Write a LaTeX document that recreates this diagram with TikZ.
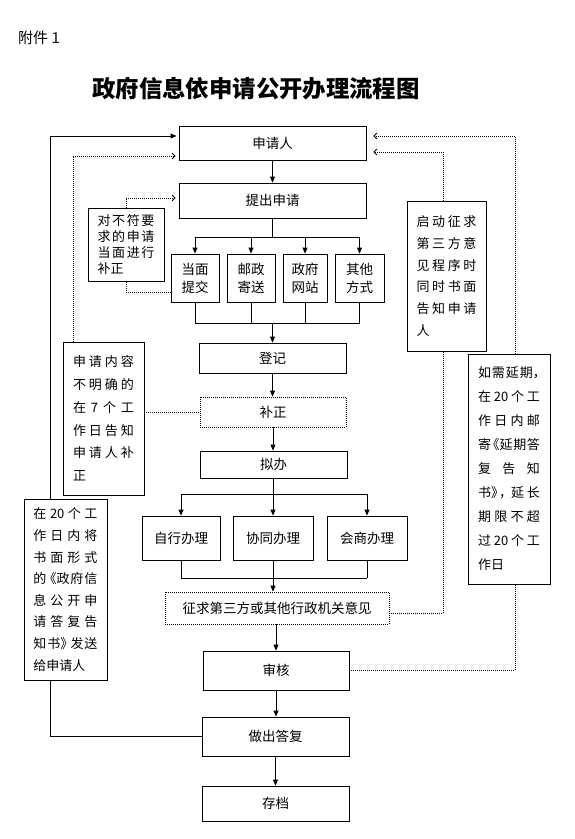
\documentclass[tikz,border=0pt]{standalone}
\usepackage{fontspec}
\setmainfont{Noto Sans CJK SC}
\usetikzlibrary{arrows.meta}
\newcommand\jl[2]{\makebox[#1][s]{#2}}
\tikzset{
  box/.style={draw, line width=0.8pt, inner sep=0pt, align=center, font=\fontsize{13.5}{18}\selectfont},
  dotbox/.style={box, dash pattern=on 1pt off 1pt},
  side/.style={draw, line width=0.8pt, inner sep=0pt, align=left},
  ln/.style={line width=0.8pt},
  arr/.style={line width=0.8pt, -{Triangle[length=6pt,width=5pt]}},
  dot/.style={line width=0.8pt, dash pattern=on 1pt off 1pt},
  dotarr/.style={dot, -{Straight Barb[length=3pt,width=6pt]}},
}
\begin{document}
\begin{tikzpicture}[x=1pt,y=-1pt]
\useasboundingbox (0,0) rectangle (574,839);
% titles
\node[anchor=west, inner sep=0pt, font=\fontsize{15}{15}\selectfont] (fj) at (18,38) {附件 1};
\node[inner sep=0pt, font=\bfseries\fontsize{23.4}{24}\selectfont] (title) at (256,89) {政府信息依申请公开办理流程图};
% main column
\node[box, minimum width=187pt, minimum height=34pt] (sq) at (272.5,143) {申请人};
\node[box, minimum width=187pt, minimum height=35pt] (tc) at (272.5,200.5) {提出申请};
\node[box, minimum width=48pt, minimum height=48pt] (b1) at (195,278) {当面\\提交};
\node[box, minimum width=48pt, minimum height=48pt] (b2) at (251,278) {邮政\\寄送};
\node[box, minimum width=44pt, minimum height=48pt] (b3) at (305,278) {政府\\网站};
\node[box, minimum width=49pt, minimum height=48pt] (b4) at (359.5,278) {其他\\方式};
\node[box, minimum width=147pt, minimum height=30pt] (dj) at (272.5,358) {登记};
\node[dotbox, minimum width=146pt, minimum height=30pt] (bz) at (273,412) {补正};
\node[box, minimum width=147pt, minimum height=27pt] (nb) at (273.5,464.5) {拟办};
\node[box, minimum width=78pt, minimum height=44pt] (c1) at (181,538) {自行办理};
\node[box, minimum width=80pt, minimum height=44pt] (c2) at (273,538) {协同办理};
\node[box, minimum width=80pt, minimum height=44pt] (c3) at (367,538) {会商办理};
\node[dotbox, minimum width=224pt, minimum height=32pt] (zq) at (277,608) {征求第三方或其他行政机关意见};
\node[box, minimum width=146pt, minimum height=39pt] (sh) at (276,670.5) {审核};
\node[box, minimum width=147pt, minimum height=39pt] (zd) at (275.5,736.5) {做出答复};
\node[box, minimum width=147pt, minimum height=35pt] (cd) at (275.5,803.5) {存档};
% side notes
\node[side, minimum width=76pt, minimum height=73pt, text width=57pt, font=\fontsize{13}{16.3}\selectfont] (sA) at (126,244.5)
  {\jl{57pt}{对\hfill 不\hfill 符\hfill 要}\\\jl{57pt}{求\hfill 的\hfill 申\hfill 请}\\\jl{57pt}{当\hfill 面\hfill 进\hfill 行}\\补正};
\node[side, minimum width=79pt, minimum height=150pt, text width=60pt, font=\fontsize{13}{21.7}\selectfont] (sB) at (446.5,276)
  {\jl{60pt}{启\hfill 动\hfill 征\hfill 求}\\\jl{60pt}{第\hfill 三\hfill 方\hfill 意}\\\jl{60pt}{见\hfill 程\hfill 序\hfill 时}\\\jl{60pt}{同\hfill 时\hfill 书\hfill 面}\\\jl{60pt}{告\hfill 知\hfill 申\hfill 请}\\人};
\node[side, minimum width=81pt, minimum height=153pt, text width=61pt, font=\fontsize{13}{22.8}\selectfont] (sC) at (103.5,418.5)
  {\jl{61pt}{申\hfill 请\hfill 内\hfill 容}\\\jl{61pt}{不\hfill 明\hfill 确\hfill 的}\\\jl{61pt}{在\hfill 7\hfill 个\hfill 工}\\\jl{61pt}{作\hfill 日\hfill 告\hfill 知}\\\jl{61pt}{申\hfill 请\hfill 人\hfill 补}\\正};
\node[side, minimum width=83pt, minimum height=181pt, text width=64pt, font=\fontsize{13}{21.6}\selectfont] (sD) at (65.5,589.5)
  {\jl{64pt}{在\hfill 20\hfill 个\hfill 工}\\\jl{64pt}{作\hfill 日\hfill 内\hfill 将}\\\jl{64pt}{书\hfill 面\hfill 形\hfill 式}\\\jl{64pt}{的\kern-4pt\hfill《政\hfill 府\hfill 信}\\\jl{64pt}{息\hfill 公\hfill 开\hfill 申}\\\jl{64pt}{请\hfill 答\hfill 复\hfill 告}\\\jl{64pt}{知\hfill 书》\kern-4pt\hfill 发\hfill 送}\\给申请人};
\node[side, minimum width=82pt, minimum height=230pt, text width=62pt, font=\fontsize{13}{24}\selectfont] (sE) at (509,469)
  {\jl{62pt}{如\hfill 需\hfill 延\hfill 期，\kern-6pt}\\\jl{62pt}{在\hfill 20\hfill 个\hfill 工}\\\jl{62pt}{作\hfill 日\hfill 内\hfill 邮}\\\jl{62pt}{寄\kern-5pt\hfill《延\hfill 期\hfill 答}\\\jl{62pt}{复\hfill 告\hfill 知}\\\jl{62pt}{书》\kern-5pt，\kern-4pt\hfill 延\hfill 长}\\\jl{62pt}{期\hfill 限\hfill 不\hfill 超}\\\jl{62pt}{过\hfill 20\hfill 个\hfill 工}\\作日};
% junction coordinates
\coordinate (brA) at (273,237);
\coordinate (mgA) at (273,323);
\coordinate (brB) at (273,494);
\coordinate (mgB) at (273,578);
\coordinate (pA) at (126,198);
\coordinate (qA) at (126,292);
\coordinate (pB) at (443,152);
\coordinate (qB) at (443,613);
\coordinate (pC) at (73,156);
\coordinate (pD) at (50,136);
\coordinate (pE) at (515,136);
% main flow
\draw[arr] (sq.south) -- (tc.north);
\draw[ln] (tc.south) -- (tc.south |- brA);
\draw[ln] (b1.north |- brA) -- (b4.north |- brA);
\foreach \b in {b1,b2,b3,b4} {
  \draw[arr] (\b.north |- brA) -- (\b.north);
  \draw[ln] (\b.south) -- (\b.south |- mgA);
}
\draw[ln] (b1.south |- mgA) -- (b4.south |- mgA);
\draw[arr] (dj.north |- mgA) -- (dj.north);
\draw[arr] (dj.south) -- (dj.south |- bz.north);
\draw[arr] (bz.south) -- (bz.south |- nb.north);
\draw[ln] (nb.south) -- (nb.south |- brB);
\draw[ln] (c1.north |- brB) -- (c3.north |- brB);
\foreach \c in {c1,c2,c3} {
  \draw[arr] (\c.north |- brB) -- (\c.north);
  \draw[ln] (\c.south) -- (\c.south |- mgB);
}
\draw[ln] (c1.south |- mgB) -- (c3.south |- mgB);
\draw[arr] (c2.south |- mgB) -- (c2.south |- zq.north);
\draw[arr] (sh.north |- zq.south) -- (sh.north);
\draw[arr] (sh.south) -- (sh.south |- zd.north);
\draw[arr] (zd.south) -- (zd.south |- cd.north);
% side connectors
\draw[dotarr, shorten >=3pt] (sA.north) -- (pA) -- (pA -| tc.west);
\draw[dot] (qA -| b1.west) -- (qA) -- (sA.south);
\draw[dotarr, shorten >=7pt] (pB |- sB.north) -- (pB) -- (pB -| sq.east);
\draw[dot] (qB -| zq.east) -- (qB) -- (pB |- sB.south);
\draw[dotarr, shorten >=3pt] (pC |- sC.north) -- (pC) -- (pC -| sq.west);
\draw[dot] (sC.east |- bz.west) -- (bz.west);
\draw[arr, shorten >=2pt] (pD |- sD.north) -- (pD) -- (pD -| sq.west);
\draw[ln] (zd.west) -- (zd.west -| pD) -- (pD |- sD.south);
\draw[dotarr, shorten >=7pt] (pE |- sE.north) -- (pE) -- (pE -| sq.east);
\draw[dot] (sh.east) -- (sh.east -| pE) -- (pE |- sE.south);
\end{tikzpicture}
\end{document}
